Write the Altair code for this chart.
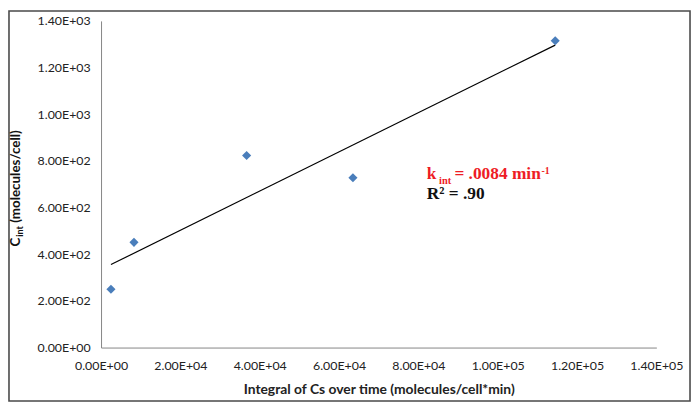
import altair as alt
import pandas as pd

# Data
x_vals = [2500, 8300, 36700, 63500, 114500]
y_vals = [250, 451, 823, 728, 1315]

x_ticks = [0, 20000, 40000, 60000, 80000, 100000, 120000, 140000]
y_ticks = [0, 200, 400, 600, 800, 1000, 1200, 1400]

x_title = "Integral of Cs over time (molecules/cell*min)"

df = pd.DataFrame({"x": x_vals, "y": y_vals})
one = pd.DataFrame({"a": [0]})

W, H = 561, 330
PAD = {"left": 94, "top": 11, "right": 36, "bottom": 56}

sci = ("datum.value == 0 ? '0.00E+00' : "
       "format(datum.value / pow(10, floor(log(datum.value)/LN10 + 1e-9)), '.2f') + 'E+' + "
       "(floor(log(datum.value)/LN10 + 1e-9) < 10 ? '0' : '') + floor(log(datum.value)/LN10 + 1e-9)")

FONT = "Lato"

xenc = alt.X("x:Q", scale=alt.Scale(domain=[0, 140000], nice=False),
             axis=alt.Axis(values=x_ticks, labelExpr=sci, title=x_title, grid=False,
                           ticks=False, tickSize=0, labelPadding=12, titlePadding=11,
                           labelFlush=False, labelOverlap=False,
                           domainColor="#868686", labelFont=FONT, labelFontSize=12.5,
                           labelColor="#222222", titleFont=FONT, titleFontSize=14,
                           titleFontWeight="bold", titleColor="#222222"))
yenc = alt.Y("y:Q", scale=alt.Scale(domain=[0, 1400], nice=False),
             axis=alt.Axis(values=y_ticks, labelExpr=sci, title=None, grid=False,
                           ticks=False, tickSize=0, labelPadding=11,
                           labelFlush=False, labelOverlap=False,
                           domainColor="#868686", labelFont=FONT, labelFontSize=12.5,
                           labelColor="#222222"))

points = alt.Chart(df).mark_point(shape="diamond", filled=True, size=85, opacity=1,
                                  color="#4a7ebb").encode(x=xenc, y=yenc)

trend = alt.Chart(df).transform_regression("x", "y", method="linear").mark_line(
    color="black", strokeWidth=1.2).encode(x="x:Q", y="y:Q")

border = alt.Chart(one).mark_rect(fill=None, stroke="#4a4a4a", strokeWidth=1.6).encode(
    x=alt.value(-93), x2=alt.value(595), y=alt.value(-10), y2=alt.value(384))

def txt(s, x, y, size, color="#111111", font=FONT, weight="bold", angle=0, align="left",
        baseline="alphabetic"):
    kw = dict(text=s, font=font, fontSize=size, fontWeight=weight, color=color,
              align=align, baseline=baseline)
    if angle:
        kw["angle"] = angle
    return alt.Chart(one).mark_text(**kw).encode(x=alt.value(x), y=alt.value(y))

SERIF = "Liberation Serif"
RED = "#ee1c25"
texts = [
    # y-axis title C_int (molecules/cell), rotated
    txt("C", -86, 228, 13.5, angle=270, baseline="middle"),
    txt("int", -82, 218, 9, angle=270, baseline="middle"),
    txt("(molecules/cell)", -86, 204, 13.5, angle=270, baseline="middle"),
    # annotation
    txt("k", 329, 160, 17.5, color=RED, font=SERIF),
    txt("int", 341.5, 165, 10.5, color=RED, font=SERIF),
    txt("= .0084 min", 357, 160, 17.5, color=RED, font=SERIF),
    txt("-1", 445, 155, 10, color=RED, font=SERIF),
    txt("R² = .90", 329, 180, 17.5, color="#111111", font=SERIF),
]

chart = alt.layer(border, trend, points, *texts).properties(
    width=W, height=H,
    autosize=alt.AutoSizeParams(type="none"),
    padding=PAD,
).configure_view(stroke=None)

chart.save("out.html", embed_options={"renderer": "svg", "actions": False})
